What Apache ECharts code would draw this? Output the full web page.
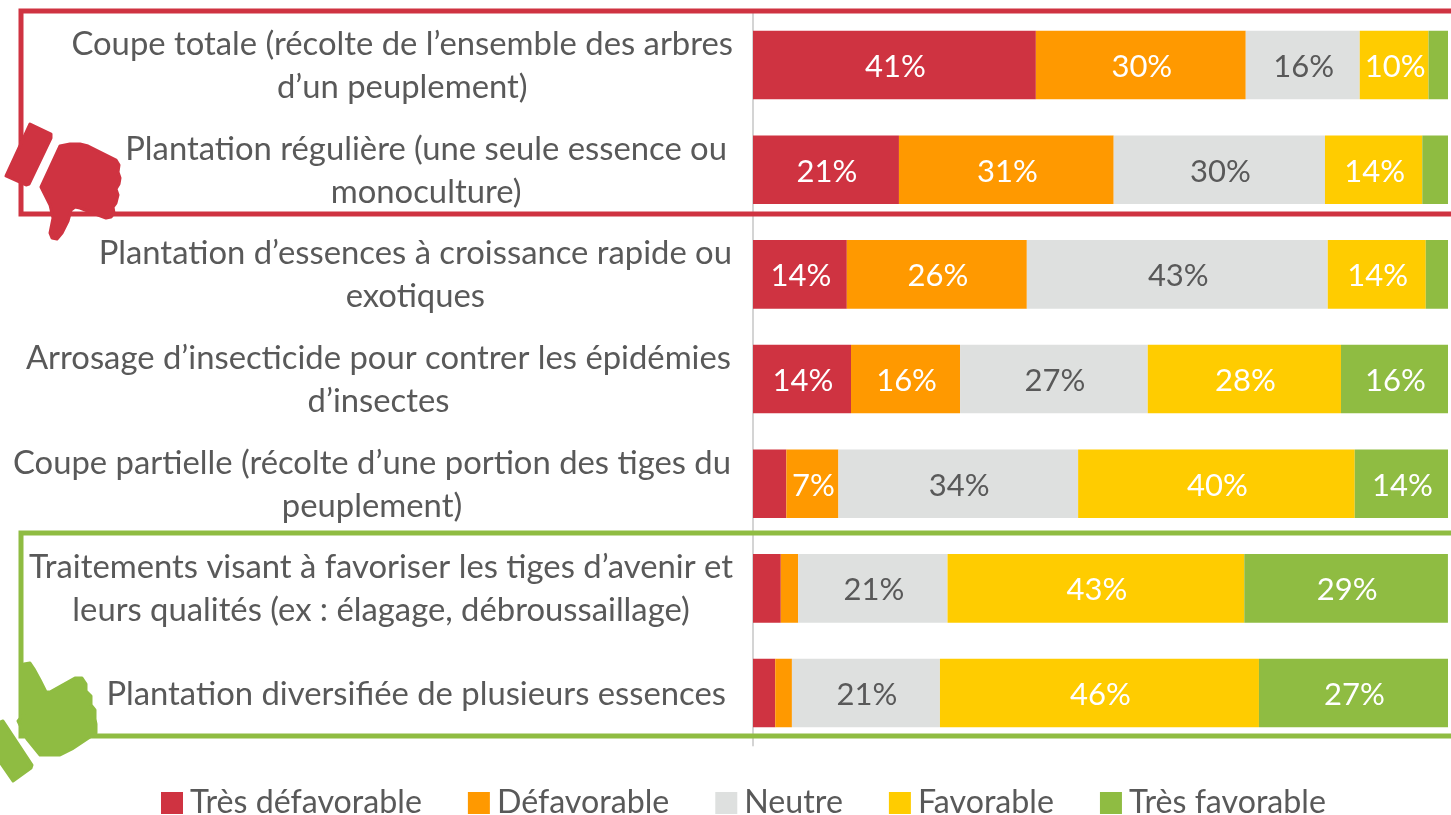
<!DOCTYPE html>
<html><head><meta charset="utf-8">
<style>html,body{margin:0;padding:0;background:#fff}#c{width:1451px;height:815px}</style>
<script src="https://cdn.jsdelivr.net/npm/echarts@6/dist/echarts.min.js"></script>
</head><body><div id="c"></div>
<script>
const categories = [
  "Coupe totale (récolte de l’ensemble des arbres\nd’un peuplement)",
  "Plantation régulière (une seule essence ou\nmonoculture)",
  "Plantation d’essences à croissance rapide ou\nexotiques",
  "Arrosage d’insecticide pour contrer les épidémies\nd’insectes",
  "Coupe partielle (récolte d’une portion des tiges du\npeuplement)",
  "Traitements visant à favoriser les tiges d’avenir et\nleurs qualités (ex : élagage, débroussaillage)",
  "Plantation diversifiée de plusieurs essences"
];
const tresDefavorable = [40.7, 21.0, 13.5, 14.1, 4.8, 4.0, 3.2];
const defavorable     = [30.2, 30.9, 25.9, 15.7, 7.49, 2.5, 2.4];
const neutre          = [16.4, 30.4, 43.3, 27.0, 34.49, 21.49, 21.3];
const favorable       = [9.9, 14.0, 14.1, 27.8, 39.8, 42.7, 45.9];
const tresFavorable   = [2.8, 3.7, 3.2, 15.5, 13.5, 29.3, 27.2];
const seriesNames = ["Très défavorable","Défavorable","Neutre","Favorable","Très favorable"];
const colors = ["#CF3341","#FF9900","#DEE0DF","#FFCC00","#8FBC42"];
const FONT = "Lato";
const TXT = "#595959";
const labelInsets = [0,6,1,2,2,0,7];

const downCuff = [[30,124],[51,134],[51,138],[29,184],[26,185],[6,176]];
const downFist = [[60,146],[70,144],[80,144],[88,146],[116,160],[119,165],[118,172],[120,178],[119,184],[116,189],[118,195],[116,203],[113,207],[114,213],[111,217],[106,218],[98,215],[80,208],[75,207],[71,210],[68,221],[62,233],[57,239],[52,238],[50,233],[53,218],[50,205],[46,197],[41,187]];
const upCuff = [[3,721],[32,765],[31,768],[13,781],[0,762],[0,722]];
const upFist = [[24,664],[30,663],[34,669],[40,680],[46,692],[50,692],[75,678],[82,678],[86,684],[86,691],[91,696],[91,705],[95,710],[95,719],[96,724],[96,733],[72,749],[60,755],[40,755],[27,739],[18,721],[24,714]];

const series = [tresDefavorable, defavorable, neutre, favorable, tresFavorable].map((data,i)=>({
  name: seriesNames[i], type:"bar", stack:"t", data, barCategoryGap:"34.5%",
  itemStyle:{color:colors[i]},
  label:{show:true, position:"inside", offset:[1,2], fontFamily:FONT, fontSize:31,
    color: i===2 ? TXT : "#fff",
    formatter:p=> p.value>=5 ? Math.round(p.value)+"%" : ""}
}));
const icon = (points,color)=>({type:"polygon",z:6,shape:{points},
  style:{fill:color,stroke:color,lineWidth:3,lineJoin:"round"}});

const chart = echarts.init(document.getElementById("c"),null,{renderer:"canvas"});
chart.setOption({
  animation:false,
  textStyle:{fontFamily:FONT},
  grid:{left:753,right:3,top:12.7,height:732.7,containLabel:false},
  xAxis:{type:"value",min:0,max:100,show:false},
  yAxis:{type:"category",inverse:true,
    data:categories.map((value,i)=>({value,textStyle:{padding:[2,labelInsets[i],0,0]}})),
    axisTick:{show:false},
    axisLine:{lineStyle:{color:"#D4D4D4",width:2}},
    axisLabel:{margin:20,align:"right",
      formatter:v=>v.split("\n").map(l=>"{c|"+l+"}").join("\n"),
      rich:{c:{align:"center",fontFamily:FONT,fontSize:32.8,color:TXT,lineHeight:43}}}},
  legend:{top:787,left:161,padding:0,itemWidth:22,itemHeight:22,itemGap:46,icon:"rect",
    data:seriesNames,
    textStyle:{fontFamily:FONT,fontSize:32.2,color:TXT,padding:[0,0,0,2]}},
  graphic:[
    {type:"rect",z:5,shape:{x:21,y:11,width:1440,height:203},style:{fill:"none",stroke:"#CF3341",lineWidth:5}},
    {type:"rect",z:5,shape:{x:21,y:533,width:1440,height:203},style:{fill:"none",stroke:"#8FBC42",lineWidth:5}},
    icon(downCuff,"#CF3341"),icon(downFist,"#CF3341"),icon(upCuff,"#8FBC42"),icon(upFist,"#8FBC42")
  ],
  series
});
</script></body></html>
